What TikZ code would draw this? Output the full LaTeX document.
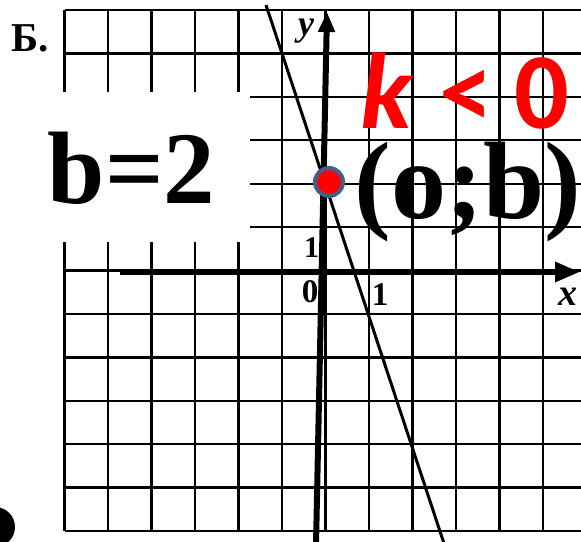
\documentclass[tikz,border=0pt]{standalone}
\usepackage{fontspec}
\setmainfont{Liberation Serif}
\newfontfamily\kfont{Carlito}
\usetikzlibrary{arrows.meta}
\definecolor{dotblue}{RGB}{64,96,140}
\definecolor{kred}{RGB}{255,0,0}
\tikzset{
  gridline/.style={line width=2.3pt, black},
  axisline/.style={line width=6pt, black},
  graphline/.style={line width=3pt, black},
  axlabel/.style={font=\fontsize{33}{33}\selectfont\bfseries, inner sep=0pt, anchor=base},
  bigtext/.style={inner sep=0pt, anchor=base},
}
\begin{document}
\begin{tikzpicture}[x=1pt,y=-1pt]
\useasboundingbox (0,0) rectangle (581,541);
\fill[white] (0,0) rectangle (581,541);
\begin{scope}
\clip (0,0) rectangle (581,541);
% grid
\foreach \i in {0,...,12} {
  \draw[gridline] (64.5+43.5*\i, 10) -- (64.5+43.5*\i, 531);
}
\foreach \j in {0,...,12} {
  \draw[gridline] (64.5, 10+43.42*\j) -- (590, 10+43.42*\j);
}
% partial black shape bottom left
\fill[black] (-5,527) circle[radius=20];
% white box behind b=2
\node[fill=white, minimum width=250pt, minimum height=150pt, inner sep=0pt, anchor=north west] (bbox) at (0,92) {};
% axes
\coordinate (xs) at (120,272);
\coordinate (xe) at (580,272);
\coordinate (ys) at (316,545);
\coordinate (ye) at (327,12);
\draw[axisline, -{Triangle[length=25pt,width=19pt]}] (xs) -- (xe);
\draw[axisline, -{Triangle[length=20pt,width=16pt]}] (ys) -- (ye);
% graph line y = -3x + 2
\coordinate (ls) at (266,5);
\coordinate (le) at (444.5,545);
\draw[graphline] (ls) -- (le);
\end{scope}
% axis labels
\node[axlabel, font=\fontsize{36}{36}\selectfont\bfseries\itshape] (ylab) at (306,35) {y};
\node[axlabel, font=\fontsize{38}{38}\selectfont\bfseries\itshape] (xlab) at (568,305) {x};
\node[axlabel] (olab) at (310,302) {0};
\node[axlabel] (x1lab) at (380,305) {1};
\node[axlabel, font=\fontsize{30}{30}\selectfont\bfseries] (y1lab) at (311.5,257) {1};
% B.
\node[bigtext, font=\fontsize{41}{41}\selectfont\bfseries] (blabel) at (30,51) {Б.};
% b=2
\node[bigtext, font=\fontsize{103}{103}\selectfont\bfseries] (beq) at (131.5,203) {b=2};
% (o;b)
\node[bigtext, font=\fontsize{110}{110}\selectfont\bfseries] (ob) at (468,218) {(o;b)};
% k < 0
\node[bigtext, text=kred, font=\kfont\fontsize{108}{108}\selectfont\bfseries, anchor=base west] (kk) at (360,128) {\itshape k\upshape\hspace{0.25em}<\hspace{0.2em}0};
% point (0;b)
\node[circle, fill=red, draw=dotblue, line width=4pt, minimum size=28pt, inner sep=0pt] (pt) at (329,182) {};
\end{tikzpicture}
\end{document}
